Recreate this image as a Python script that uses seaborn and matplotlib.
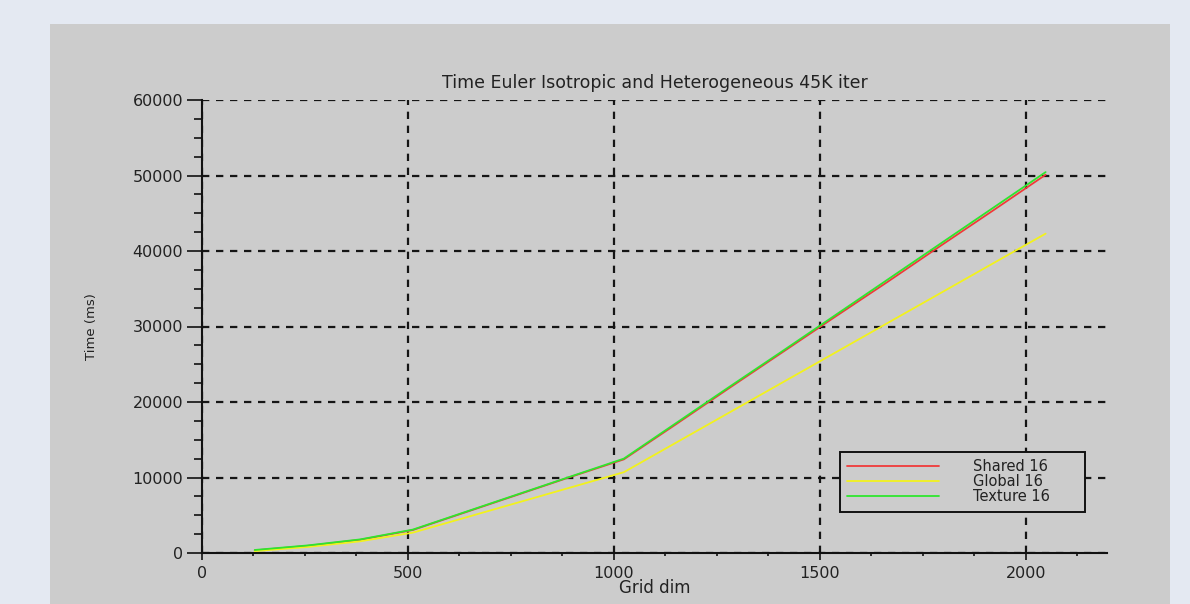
import matplotlib
matplotlib.use("Agg")
import matplotlib.pyplot as plt
from matplotlib.patches import Rectangle
from matplotlib.lines import Line2D
from matplotlib.ticker import MultipleLocator
import numpy as np
import pandas as pd
import seaborn as sns

# Grid sizes and run times (ms) for 45K iterations
grid_dim = [128, 256, 384, 512, 640, 768, 896, 1024,
            1152, 1280, 1408, 1536, 1664, 1792, 1920, 2048]
shared_16 = [350, 950, 1750, 3050, 5400, 7750, 10100, 12400,
             17100, 21850, 26550, 31250, 35900, 40650, 45350, 50100]
global_16 = [250, 800, 1550, 2700, 4700, 6700, 8700, 10700,
             14650, 18600, 22550, 26500, 30450, 34400, 38350, 42300]
texture_16 = [400, 1000, 1800, 3100, 5450, 7800, 10150, 12500,
              17250, 22000, 26700, 31450, 36200, 40950, 45700, 50450]

series_names = ["Shared 16", "Global 16", "Texture 16"]
series_colors = ["#f03a3a", "#f2f21c", "#2ee62e"]

title = "Time Euler Isotropic and Heterogeneous 45K iter"
x_label = "Grid dim"
y_label = "Time (ms)"

sns.set_style("ticks")
plt.rcParams["font.family"] = ["DejaVu Sans"]

df = pd.DataFrame({
    "Grid dim": grid_dim * 3,
    "Time": shared_16 + global_16 + texture_16,
    "Series": [n for n, vals in zip(series_names, [shared_16, global_16, texture_16])
               for _ in vals],
})

W, H = 1190, 604
fig = plt.figure(figsize=(W / 100, H / 100), dpi=100, facecolor="#e4e9f2")
panel = Rectangle((50 / W, 0), (1170 - 50) / W, (H - 24) / H,
                  transform=fig.transFigure, facecolor="#cccccc",
                  edgecolor="none", zorder=-10)
fig.patches.append(panel)

ax = fig.add_axes([202 / W, (H - 553) / H, 905 / W, 453 / H])
ax.set_zorder(1)
ax.set_facecolor("#cccccc")

sns.lineplot(data=df, x="Grid dim", y="Time", hue="Series",
             hue_order=series_names, palette=series_colors,
             linewidth=1.3, ax=ax, legend=False, zorder=3)

ax.set_xlim(0, 2197)
ax.set_ylim(0, 60000)
ax.xaxis.set_major_locator(MultipleLocator(500))
ax.xaxis.set_minor_locator(MultipleLocator(125))
ax.yaxis.set_major_locator(MultipleLocator(10000))
ax.yaxis.set_minor_locator(MultipleLocator(2500))

for s in ["top", "right"]:
    ax.spines[s].set_visible(False)
for s in ["left", "bottom"]:
    ax.spines[s].set_linewidth(1.5)
    ax.spines[s].set_color("#111111")

ax.tick_params(axis="y", which="major", length=10.5, width=1.2,
               color="#111111", labelsize=11.5, labelcolor="#222222", pad=3)
ax.tick_params(axis="y", which="minor", length=6, width=1.2, color="#111111")
ax.tick_params(axis="x", which="major", length=5, width=1.2,
               color="#111111", labelsize=11.5, labelcolor="#222222", pad=4)
ax.tick_params(axis="x", which="minor", length=2.5, width=1.2, color="#111111")

ax.grid(True, which="major", color="#151515", linewidth=1.6,
        linestyle=(0, (3.3, 3.0)), zorder=1)
ax.set_axisbelow(True)

ax.set_title(title, fontsize=12.5, color="#222222", pad=9)
ax.set_xlabel(x_label, fontsize=12, color="#222222", labelpad=-1)
ax.set_ylabel(y_label, fontsize=9.5, color="#222222", labelpad=25)

handles = [Line2D([0], [0], color=c, linewidth=1.3) for c in series_colors]
leg_x0 = (840 - 202) / 905
leg_x1 = (1085 - 202) / 905
leg_y1 = (553 - 452) / 453
leg_y0 = (553 - 508) / 453
leg = ax.legend(handles, series_names, loc="upper left",
                bbox_to_anchor=(leg_x0, leg_y0, leg_x1 - leg_x0, leg_y1 - leg_y0),
                mode="expand",
                borderaxespad=0, fontsize=10.5, frameon=True, fancybox=False,
                facecolor="#cccccc", edgecolor="#111111", framealpha=1,
                handlelength=6.3, handletextpad=2.3, labelspacing=0.0,
                borderpad=0.5)
leg.get_frame().set_linewidth(1.4)
for t in leg.get_texts():
    t.set_color("#222222")

fig.savefig("out.png", dpi=100, facecolor=fig.get_facecolor())
